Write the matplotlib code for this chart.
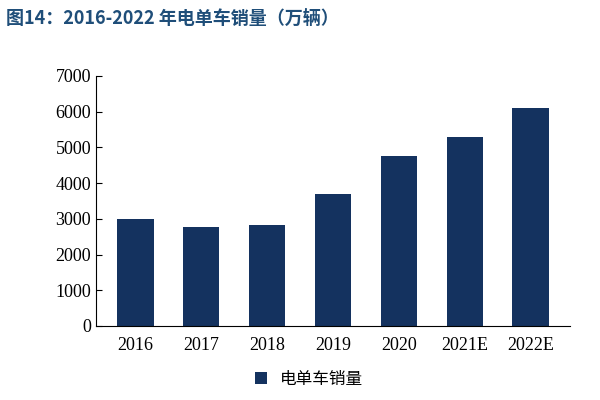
import matplotlib
matplotlib.use("Agg")
import matplotlib.pyplot as plt

years = ["2016", "2017", "2018", "2019", "2020", "2021E", "2022E"]
sales = [3000, 2780, 2820, 3700, 4760, 5300, 6100]
yticks = [0, 1000, 2000, 3000, 4000, 5000, 6000, 7000]

fig = plt.figure(figsize=(6, 4), dpi=100)
ax = fig.add_axes([0.16, 0.185, 0.79, 0.625])
ax.bar(years, sales, width=0.55, color="#14325f", label="电单车销量")
ax.set_ylim(0, 7000)
ax.set_xlim(-0.6, 6.6)
ax.set_yticks(yticks)
for s in ["top", "right"]:
    ax.spines[s].set_visible(False)
ax.tick_params(axis="y", direction="in", length=4)
ax.tick_params(axis="x", length=0, pad=8)
for lab in ax.get_xticklabels() + ax.get_yticklabels():
    lab.set_fontfamily("Liberation Serif")
    lab.set_fontsize(13)
ax.legend(loc="upper center", bbox_to_anchor=(0.45, -0.12), frameon=False,
          prop={"family": "Noto Sans CJK SC", "size": 12}, handlelength=0.7, handleheight=0.7)
fig.text(0.01, 0.955, "图14：2016-2022 年电单车销量（万辆）", fontfamily="Noto Sans CJK SC",
         fontweight="bold", fontsize=13, color="#1f4e79", va="center")
fig.savefig("out.png")
